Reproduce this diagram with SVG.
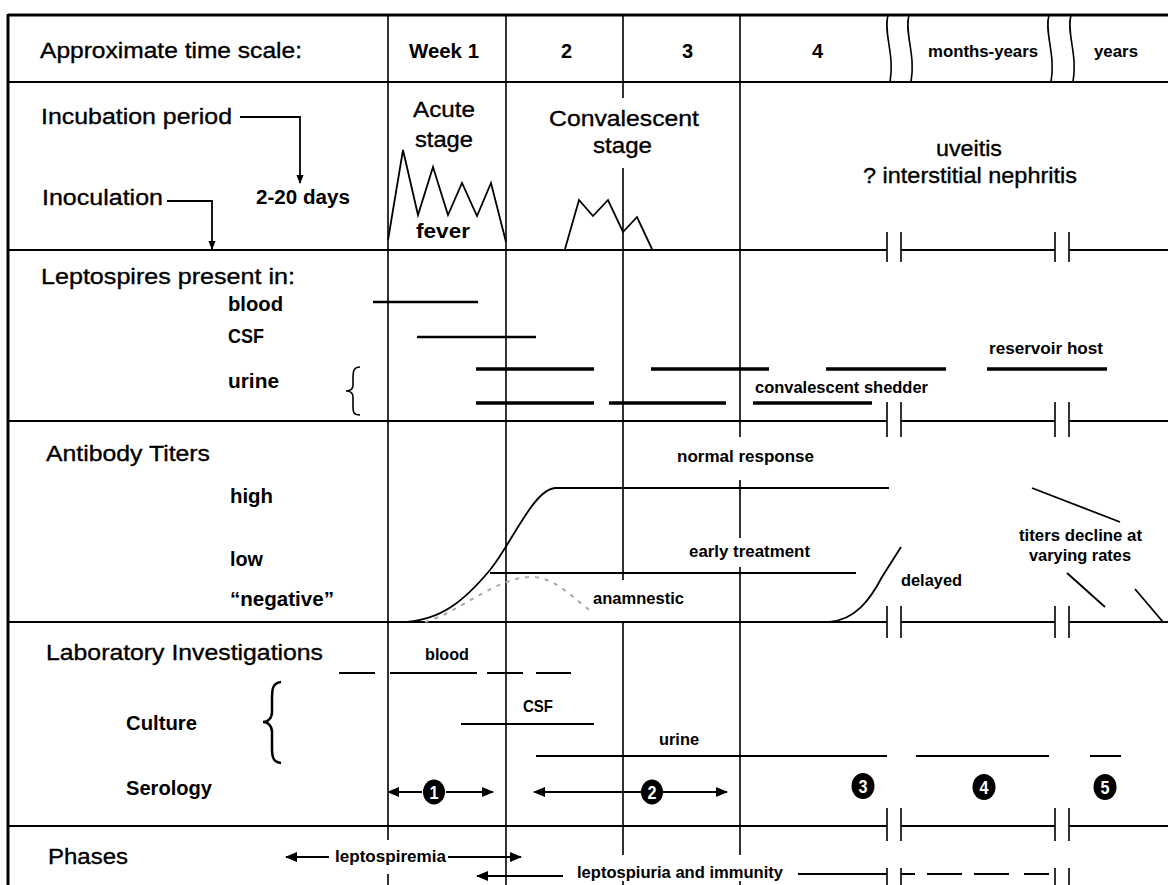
<svg xmlns="http://www.w3.org/2000/svg" width="1168" height="885" viewBox="0 0 1168 885">
<defs>
<marker id="ah" viewBox="0 0 12 10" refX="11" refY="5" markerWidth="12" markerHeight="10" markerUnits="userSpaceOnUse" orient="auto"><path d="M0,0 L12,5 L0,10 Z" fill="#000"/></marker>
<marker id="ahs" viewBox="0 0 10 8" refX="9" refY="4" markerWidth="9" markerHeight="8" markerUnits="userSpaceOnUse" orient="auto"><path d="M0,0 L10,4 L0,8 Z" fill="#000"/></marker>
</defs>
<style>
text{font-family:"Liberation Sans",Arial,Helvetica,sans-serif;fill:#000}
.big{font-size:22.5px;stroke:#000;stroke-width:0.35}
.b{font-weight:bold;font-size:20px}
.s{font-weight:bold;font-size:17px}
.num{font-weight:bold;font-size:19px;fill:#fff;text-anchor:middle}
.g{stroke:#000;stroke-width:1.6;fill:none}
.h{stroke:#000;stroke-width:2;fill:none}
.bar{stroke:#000;stroke-width:2.5}
.ubar{stroke:#000;stroke-width:3.5}
.ln{stroke:#000;stroke-width:1.8;fill:none}
.arr{stroke:#000;stroke-width:2;fill:none}
</style>
<rect width="1168" height="885" fill="#fff"/>

<g id="grid">
  <line x1="8" y1="15" x2="1168" y2="15" stroke="#000" stroke-width="3"/>
  <line x1="8" y1="14" x2="8" y2="885" stroke="#000" stroke-width="3"/>
  <line class="h" x1="8" y1="82" x2="1168" y2="82"/>
  <g class="h">
    <path d="M8,250H887M901,250H1055M1069,250H1168"/>
    <path d="M8,421H887M901,421H1055M1069,421H1168"/>
    <path d="M8,622H887M901,622H1055M1069,622H1168"/>
    <path d="M8,826H887M901,826H1055M1069,826H1168"/>
  </g>
  <g class="g">
    <path d="M388,15V840M388,874V885"/>
    <path d="M506,15V885"/>
    <path d="M623,15V98M623,168V580M623,622V855M623,881V885"/>
    <path d="M740,15V437M740,480V538M740,567V855M740,881V885"/>
    <path d="M887,232V262M901,232V262M1055,232V262M1069,232V262"/>
    <path d="M887,402V437M901,402V437M1055,402V437M1069,402V437"/>
    <path d="M887,606V638M901,606V638M1055,606V638M1069,606V638"/>
    <path d="M887,808V841M901,808V841M1055,808V841M1069,808V841"/>
    <path d="M887,868V885M901,868V885M1055,868V885M1069,868V885"/>
    <path d="M888,15C883,32 895,55 890,82"/>
    <path d="M909,15C904,32 916,55 911,82"/>
    <path d="M1049,15C1044,32 1056,55 1051,82"/>
    <path d="M1071,15C1066,32 1078,55 1073,82"/>
  </g>
</g>

<g id="header">
  <text class="big" x="40" y="58" textLength="262" lengthAdjust="spacingAndGlyphs">Approximate time scale:</text>
  <text class="b" x="409" y="58" font-size="18.5" textLength="70" lengthAdjust="spacingAndGlyphs">Week 1</text>
  <text class="b" x="561" y="58" font-size="18.5">2</text>
  <text class="b" x="682" y="58" font-size="18.5">3</text>
  <text class="b" x="812" y="58" font-size="18.5">4</text>
  <text class="s" x="928" y="57" font-size="18" textLength="110" lengthAdjust="spacingAndGlyphs">months-years</text>
  <text class="s" x="1094" y="57" font-size="18" textLength="44" lengthAdjust="spacingAndGlyphs">years</text>
</g>

<g id="incubation">
  <text class="big" x="41" y="124" textLength="191" lengthAdjust="spacingAndGlyphs">Incubation period</text>
  <text class="big" x="42" y="205" textLength="121" lengthAdjust="spacingAndGlyphs">Inoculation</text>
  <text class="b" x="256" y="204" font-size="17.5" textLength="94" lengthAdjust="spacingAndGlyphs">2-20 days</text>
</g>

<g id="acute-stage">
  <text class="big" x="413" y="117" font-size="23" textLength="62" lengthAdjust="spacingAndGlyphs">Acute</text>
  <text class="big" x="415" y="147" font-size="23" textLength="58" lengthAdjust="spacingAndGlyphs">stage</text>
  <polyline class="ln" points="388,240 403,150 418,215 433,167 448,215 462,183 477,216 491,183 506,242"/>
  <text class="b" x="416" y="238" textLength="54" lengthAdjust="spacingAndGlyphs">fever</text>
</g>

<g id="convalescent-stage">
  <text class="big" x="549" y="126" textLength="150" lengthAdjust="spacingAndGlyphs">Convalescent</text>
  <text class="big" x="593" y="153" textLength="59" lengthAdjust="spacingAndGlyphs">stage</text>
  <polyline class="ln" points="565,249 579,200 593,216 608,200 623,232 637,217 652,249"/>
</g>

<g id="late-stage">
  <text class="big" x="936" y="156" font-size="21" textLength="66" lengthAdjust="spacingAndGlyphs">uveitis</text>
  <text class="big" x="863" y="183" font-size="21" textLength="214" lengthAdjust="spacingAndGlyphs">? interstitial nephritis</text>
</g>

<g id="leptospires">
  <text class="big" x="41" y="284" textLength="254" lengthAdjust="spacingAndGlyphs">Leptospires present in:</text>
  <text class="b" x="228" y="311" textLength="55" lengthAdjust="spacingAndGlyphs">blood</text>
  <text class="b" x="228" y="343" textLength="36" lengthAdjust="spacingAndGlyphs">CSF</text>
  <text class="b" x="228" y="388" textLength="51" lengthAdjust="spacingAndGlyphs">urine</text>
  <path class="g" d="M360,367C353,367 353,372 353,380L353,385C353,389 350,391 346,391C350,391 353,393 353,397L353,405C353,412 353,415 360,415"/>
  <line class="bar" x1="373" y1="302" x2="478" y2="302"/>
  <line class="bar" x1="417" y1="337" x2="536" y2="337"/>
  <path class="ubar" d="M476,369H594M651,369H769M826,369H946M987,369H1107"/>
  <path class="ubar" d="M476,403H594M609,403H726M753,403H872"/>
  <text class="s" x="989" y="354" textLength="114" lengthAdjust="spacingAndGlyphs">reservoir host</text>
  <text class="s" x="755" y="393" textLength="173" lengthAdjust="spacingAndGlyphs">convalescent shedder</text>
</g>

<g id="antibody">
  <text class="big" x="46" y="461" textLength="164" lengthAdjust="spacingAndGlyphs">Antibody Titers</text>
  <text class="b" x="230" y="503" textLength="43" lengthAdjust="spacingAndGlyphs">high</text>
  <text class="b" x="230" y="566" textLength="33" lengthAdjust="spacingAndGlyphs">low</text>
  <text class="b" x="230" y="606" textLength="104" lengthAdjust="spacingAndGlyphs">“negative”</text>
  <path class="ln" d="M400,622C440,622 465,600 490,570C512,543 534,488 556,488L889,488"/>
  <line class="ln" x1="490" y1="573" x2="856" y2="573"/>
  <path d="M425,622C460,612 495,578 530,577C555,576 575,600 592,612" fill="none" stroke="#a8a8a8" stroke-width="2" stroke-dasharray="4,6"/>
  <path class="ln" d="M829,622C855,620 870,600 882,577L901,547"/>
  <line class="ln" x1="1032" y1="488" x2="1120" y2="522"/>
  <line class="ln" x1="1067" y1="573" x2="1105" y2="607"/>
  <line class="ln" x1="1135" y1="589" x2="1163" y2="622"/>
  <text class="s" x="677" y="462" textLength="137" lengthAdjust="spacingAndGlyphs">normal response</text>
  <text class="s" x="689" y="557" textLength="121" lengthAdjust="spacingAndGlyphs">early treatment</text>
  <text class="s" x="593" y="604" textLength="91" lengthAdjust="spacingAndGlyphs">anamnestic</text>
  <text class="s" x="901" y="586" textLength="61" lengthAdjust="spacingAndGlyphs">delayed</text>
  <text class="s" x="1019" y="541" textLength="123" lengthAdjust="spacingAndGlyphs">titers decline at</text>
  <text class="s" x="1029" y="561" textLength="102" lengthAdjust="spacingAndGlyphs">varying rates</text>
</g>

<g id="laboratory">
  <text class="big" x="46" y="660" textLength="277" lengthAdjust="spacingAndGlyphs">Laboratory Investigations</text>
  <text class="b" x="126" y="730" textLength="71" lengthAdjust="spacingAndGlyphs">Culture</text>
  <text class="b" x="126" y="795" textLength="86" lengthAdjust="spacingAndGlyphs">Serology</text>
  <path d="M281,682C272,683 272,690 272,700L272,712C272,718 268,722 263,722C268,722 272,726 272,732L272,748C272,757 273,762 281,763" fill="none" stroke="#000" stroke-width="2.5"/>
  <text class="s" x="425" y="660" font-size="18" textLength="44" lengthAdjust="spacingAndGlyphs">blood</text>
  <path class="h" d="M339,673H375M390,673H477M487,673H523M536,673H571"/>
  <text class="s" x="523" y="712" font-size="18" textLength="30" lengthAdjust="spacingAndGlyphs">CSF</text>
  <line class="h" x1="461" y1="724" x2="594" y2="724"/>
  <text class="s" x="659" y="745" font-size="18" textLength="40" lengthAdjust="spacingAndGlyphs">urine</text>
  <path class="h" d="M536,756H887M916,756H1049M1090,756H1121"/>
</g>

<g id="serology-badges">
  <g id="badge1"><ellipse cx="434" cy="792" rx="11" ry="12.5"/><text class="num" x="434" y="799" textLength="9" lengthAdjust="spacingAndGlyphs">1</text></g>
  <g id="badge2"><ellipse cx="652" cy="792" rx="11" ry="12.5"/><text class="num" x="652" y="799" textLength="9" lengthAdjust="spacingAndGlyphs">2</text></g>
  <g id="badge3"><ellipse cx="863" cy="786" rx="11.5" ry="13"/><text class="num" x="863" y="793" textLength="9" lengthAdjust="spacingAndGlyphs">3</text></g>
  <g id="badge4"><ellipse cx="984" cy="787" rx="11.5" ry="13"/><text class="num" x="984" y="794" textLength="9" lengthAdjust="spacingAndGlyphs">4</text></g>
  <g id="badge5"><ellipse cx="1105" cy="787" rx="11.5" ry="13"/><text class="num" x="1105" y="794" textLength="9" lengthAdjust="spacingAndGlyphs">5</text></g>
</g>

<g id="phases">
  <text class="big" x="48" y="864" textLength="80" lengthAdjust="spacingAndGlyphs">Phases</text>
  <text class="s" x="335" y="862" font-size="17.5" textLength="111" lengthAdjust="spacingAndGlyphs">leptospiremia</text>
  <text class="s" x="577" y="878" font-size="17.5" textLength="206" lengthAdjust="spacingAndGlyphs">leptospiuria and immunity</text>
</g>

<g id="connectors">
  <polyline class="ln" points="240,117 300,117 300,183" marker-end="url(#ahs)"/>
  <polyline class="ln" points="167,201 212,201 212,249" marker-end="url(#ahs)"/>
  <line class="arr" x1="422" y1="792" x2="388" y2="792" marker-end="url(#ah)"/>
  <line class="arr" x1="446" y1="792" x2="493" y2="792" marker-end="url(#ah)"/>
  <line class="arr" x1="641" y1="792" x2="534" y2="792" marker-end="url(#ah)"/>
  <line class="arr" x1="663" y1="792" x2="727" y2="792" marker-end="url(#ah)"/>
  <line class="arr" x1="329" y1="857" x2="286" y2="857" marker-end="url(#ah)"/>
  <line class="arr" x1="448" y1="857" x2="521" y2="857" marker-end="url(#ah)"/>
  <line class="arr" x1="563" y1="876" x2="477" y2="876" marker-end="url(#ah)"/>
  <path class="arr" d="M798,874H887M901,874H915M927,874H962M974,874H1009M1024,874H1049"/>
</g>
</svg>
